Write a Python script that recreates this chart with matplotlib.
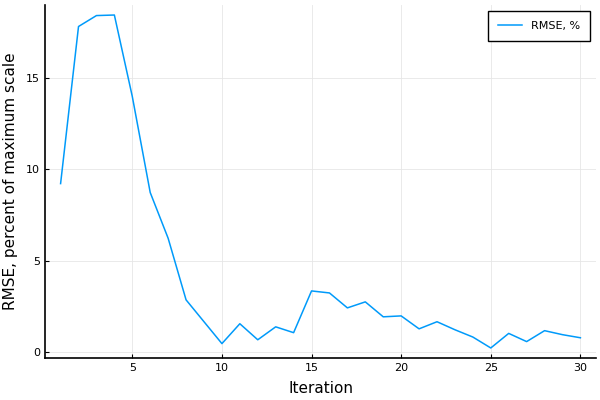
import matplotlib
matplotlib.use("Agg")
import matplotlib.pyplot as plt

iterations = list(range(1, 31))
rmse = [9.22, 17.84, 18.44, 18.47, 14.0, 8.73, 6.22, 2.84, 1.64, 0.44,
        1.53, 0.65, 1.36, 1.04, 3.33, 3.22, 2.40, 2.73, 1.91, 1.96,
        1.25, 1.64, 1.20, 0.80, 0.20, 1.00, 0.55, 1.15, 0.93, 0.76]

fig = plt.figure(figsize=(6, 4), dpi=100)
ax = fig.add_axes([45/600, 1-358/400, (596-45)/600, (358-5)/400])
ax.plot(iterations, rmse, color="#009AFA", lw=1.1, label="RMSE, %")
ax.set_xlim(0.13, 30.87)
ax.set_ylim(-0.35, 19.02)
ax.set_xticks([5, 10, 15, 20, 25, 30])
ax.set_yticks([0, 5, 10, 15])
ax.grid(True, color="#e6e6e6", lw=0.6)
ax.set_axisbelow(True)
for s in ["top", "right"]:
    ax.spines[s].set_visible(False)
for s in ["left", "bottom"]:
    ax.spines[s].set_linewidth(1.2)
ax.tick_params(direction="in", length=3, labelsize=8, width=0.8)
ax.set_xlabel("Iteration", fontsize=11, labelpad=6)
ax.set_ylabel("RMSE, percent of maximum scale", fontsize=11, labelpad=6)
leg = ax.legend(loc="upper right", fontsize=8, fancybox=False, framealpha=1,
                edgecolor="black", borderpad=0.9, handlelength=2.2)
leg.get_frame().set_linewidth(1.0)
fig.savefig("out.png", dpi=100)
